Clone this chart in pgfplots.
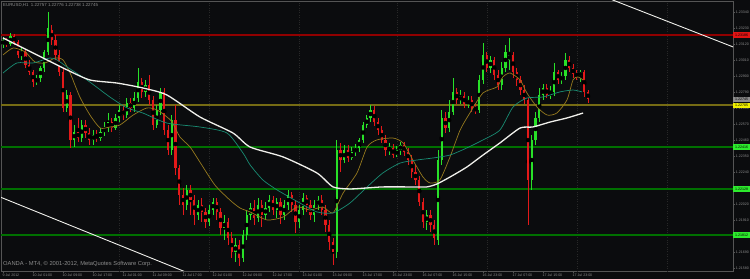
\documentclass[border=0pt]{standalone}
\usepackage{fontspec}
\setmainfont{Liberation Sans}
\usepackage{pgfplots}
\usepackage{pgfplotstable}
\pgfplotsset{compat=1.18}
\definecolor{bg}{RGB}{11,12,14}
\definecolor{upc}{RGB}{40,225,40}
\definecolor{dnc}{RGB}{228,25,25}
\definecolor{redl}{RGB}{145,0,0}
\definecolor{redbox}{RGB}{225,20,20}
\definecolor{olivel}{RGB}{118,108,20}
\definecolor{yelbox}{RGB}{240,240,0}
\definecolor{greenl}{RGB}{0,112,0}
\definecolor{greenbox}{RGB}{45,235,45}
\definecolor{graybox}{RGB}{140,140,140}
\definecolor{maw}{RGB}{240,240,235}
\definecolor{mateal}{RGB}{25,140,115}
\definecolor{maol}{RGB}{150,122,30}
\definecolor{framec}{RGB}{85,85,85}
\definecolor{gridc}{RGB}{40,40,40}
\definecolor{txtc}{RGB}{140,140,140}

\pgfplotstableread{
i o h l c
0 1.23118 1.23173 1.23097 1.23152
1 1.23152 1.23166 1.23104 1.23125
2 1.23125 1.23200 1.23111 1.23180
3 1.23180 1.23193 1.23118 1.23138
4 1.23138 1.23152 1.23028 1.23049
5 1.23049 1.23097 1.23015 1.23070
6 1.23070 1.23083 1.22960 1.22980
7 1.22980 1.23015 1.22911 1.22932
8 1.22932 1.22946 1.22829 1.22863
9 1.22863 1.22911 1.22843 1.22891
10 1.22891 1.22973 1.22863 1.22960
11 1.22960 1.23083 1.22932 1.23070
12 1.23070 1.23345 1.23049 1.23235
13 1.23221 1.23255 1.23118 1.23152
14 1.23152 1.23186 1.23015 1.23049
15 1.23049 1.23083 1.22905 1.22932
16 1.22932 1.22960 1.22657 1.22685
17 1.22685 1.22808 1.22657 1.22774
18 1.22774 1.22795 1.22410 1.22465
19 1.22465 1.22568 1.22416 1.22520
20 1.22520 1.22616 1.22451 1.22478
21 1.22478 1.22602 1.22451 1.22568
22 1.22568 1.22602 1.22478 1.22513
23 1.22513 1.22547 1.22430 1.22465
24 1.22465 1.22533 1.22430 1.22499
25 1.22499 1.22533 1.22451 1.22478
26 1.22478 1.22547 1.22458 1.22520
27 1.22520 1.22588 1.22492 1.22547
28 1.22547 1.22650 1.22520 1.22588
29 1.22588 1.22616 1.22520 1.22547
30 1.22547 1.22643 1.22533 1.22616
31 1.22616 1.22705 1.22588 1.22671
32 1.22671 1.22698 1.22602 1.22636
33 1.22636 1.22753 1.22616 1.22719
34 1.22719 1.22753 1.22657 1.22685
35 1.22685 1.22795 1.22657 1.22753
36 1.22753 1.22960 1.22726 1.22863
37 1.22863 1.22891 1.22753 1.22795
38 1.22795 1.22877 1.22760 1.22843
39 1.22843 1.22911 1.22705 1.22740
40 1.22740 1.22767 1.22533 1.22568
41 1.22568 1.22705 1.22547 1.22671
42 1.22671 1.22822 1.22636 1.22795
43 1.22795 1.22822 1.22499 1.22533
44 1.22533 1.22568 1.22361 1.22396
45 1.22396 1.22636 1.22361 1.22602
46 1.22602 1.22705 1.22224 1.22272
47 1.22272 1.22293 1.22018 1.22086
48 1.22086 1.22135 1.21949 1.22018
49 1.22018 1.22155 1.21983 1.22121
50 1.22121 1.22155 1.21949 1.22052
51 1.22052 1.22086 1.21880 1.21949
52 1.21949 1.22052 1.21915 1.22018
53 1.22018 1.22066 1.21901 1.21970
54 1.21970 1.21997 1.21860 1.21901
55 1.21901 1.22018 1.21873 1.21983
56 1.21983 1.22066 1.21949 1.22038
57 1.22038 1.22066 1.21915 1.21970
58 1.21970 1.21997 1.21811 1.21860
59 1.21860 1.21949 1.21777 1.21901
60 1.21901 1.21928 1.21743 1.21791
61 1.21791 1.21832 1.21653 1.21695
62 1.21695 1.21791 1.21626 1.21743
63 1.21743 1.21777 1.21598 1.21653
64 1.21653 1.21846 1.21626 1.21811
65 1.21811 1.21983 1.21777 1.21949
66 1.21949 1.22031 1.21915 1.21997
67 1.21997 1.22052 1.21880 1.21928
68 1.21928 1.22066 1.21901 1.22018
69 1.22018 1.22052 1.21866 1.21949
70 1.21949 1.22038 1.21915 1.21997
71 1.21997 1.22086 1.21970 1.22052
72 1.22052 1.22080 1.21949 1.21983
73 1.21983 1.22066 1.21928 1.22038
74 1.22038 1.22066 1.21887 1.21949
75 1.21949 1.22052 1.21915 1.22018
76 1.22018 1.22121 1.21983 1.22086
77 1.22086 1.22107 1.21970 1.22018
78 1.22018 1.22052 1.21825 1.21901
79 1.21901 1.22018 1.21860 1.21983
80 1.21983 1.22100 1.21949 1.22066
81 1.22066 1.22086 1.21970 1.22018
82 1.22018 1.22052 1.21915 1.21949
83 1.21949 1.22052 1.21901 1.22018
84 1.22018 1.22080 1.21983 1.22052
85 1.22052 1.22086 1.21949 1.21983
86 1.21983 1.22018 1.21832 1.21880
87 1.21880 1.21915 1.21708 1.21763
88 1.21763 1.21791 1.21605 1.21695
89 1.21695 1.22465 1.21653 1.22396
90 1.22396 1.22444 1.22245 1.22327
91 1.22327 1.22430 1.22306 1.22396
92 1.22396 1.22430 1.22313 1.22341
93 1.22341 1.22416 1.22327 1.22382
94 1.22382 1.22437 1.22355 1.22410
95 1.22410 1.22478 1.22382 1.22465
96 1.22465 1.22588 1.22444 1.22568
97 1.22568 1.22636 1.22547 1.22616
98 1.22616 1.22705 1.22588 1.22671
99 1.22671 1.22698 1.22561 1.22588
100 1.22588 1.22616 1.22499 1.22533
101 1.22533 1.22561 1.22444 1.22465
102 1.22465 1.22499 1.22355 1.22396
103 1.22396 1.22444 1.22361 1.22410
104 1.22410 1.22437 1.22341 1.22361
105 1.22361 1.22423 1.22348 1.22396
106 1.22396 1.22451 1.22361 1.22430
107 1.22430 1.22451 1.22355 1.22382
108 1.22382 1.22410 1.22293 1.22327
109 1.22327 1.22361 1.22203 1.22245
110 1.22245 1.22293 1.22155 1.22190
111 1.22190 1.22217 1.22011 1.22038
112 1.22038 1.22066 1.21860 1.21901
113 1.21901 1.21983 1.21846 1.21949
114 1.21949 1.21983 1.21832 1.21880
115 1.21880 1.21915 1.21743 1.21791
116 1.21777 1.22396 1.21743 1.22327
117 1.22327 1.22671 1.22293 1.22616
118 1.22616 1.22657 1.22513 1.22547
119 1.22547 1.22740 1.22520 1.22657
120 1.22657 1.22891 1.22636 1.22795
121 1.22795 1.22822 1.22712 1.22740
122 1.22740 1.22808 1.22712 1.22767
123 1.22767 1.22795 1.22685 1.22712
124 1.22712 1.22767 1.22685 1.22740
125 1.22740 1.22767 1.22657 1.22685
126 1.22685 1.22712 1.22643 1.22671
127 1.22671 1.22911 1.22650 1.22877
128 1.22877 1.23131 1.22850 1.23049
129 1.23049 1.23070 1.22932 1.22960
130 1.22960 1.23042 1.22925 1.23015
131 1.23015 1.23035 1.22877 1.22911
132 1.22911 1.22946 1.22808 1.22843
133 1.22843 1.23001 1.22808 1.22960
134 1.22960 1.23118 1.22932 1.23070
135 1.23015 1.23166 1.22946 1.23049
136 1.23049 1.23070 1.22891 1.22932
137 1.22932 1.22960 1.22836 1.22877
138 1.22877 1.22905 1.22774 1.22808
139 1.22808 1.22843 1.22712 1.22740
140 1.22740 1.22753 1.21880 1.22190
141 1.22190 1.22499 1.22121 1.22465
142 1.22465 1.22657 1.22430 1.22616
143 1.22616 1.22822 1.22588 1.22774
144 1.22774 1.22850 1.22740 1.22822
145 1.22822 1.22850 1.22753 1.22774
146 1.22774 1.22836 1.22746 1.22795
147 1.22795 1.22994 1.22767 1.22932
148 1.22932 1.22946 1.22850 1.22877
149 1.22877 1.22932 1.22850 1.22905
150 1.22905 1.23063 1.22877 1.23015
151 1.23015 1.23042 1.22932 1.22960
152 1.22960 1.22987 1.22891 1.22918
153 1.22918 1.22946 1.22877 1.22905
154 1.22905 1.22946 1.22863 1.22932
155 1.22932 1.22946 1.22760 1.22795
156 1.22795 1.22808 1.22719 1.22746
}\candles

\pgfplotsset{
  wick/.style={only marks, mark=none, forget plot,
    error bars/.cd, y dir=both, y explicit, error mark=none,
    error bar style={line width=0.7bp, draw=#1}},
  body/.style={only marks, mark=none, forget plot,
    error bars/.cd, y dir=both, y explicit, error mark=none,
    error bar style={line width=2.3bp, draw=#1}},
  hline/.style={draw=#1, color=#1, line width=1.5bp, mark=none, forget plot},
}
\newcommand{\tinyf}{\fontsize{3.6}{4}\selectfont}

\begin{document}
\begin{tikzpicture}
\fill[bg] (0,0) rectangle (750bp,279bp);
\useasboundingbox (0,0) rectangle (750bp,279bp);
\begin{axis}[
  at={(1bp,8bp)}, anchor=south west,
  scale only axis, width=732bp, height=270bp,
  xmin=-0.533, xmax=194.667, ymin=1.21564, ymax=1.23420,
  clip mode=individual,
  axis line style={framec, line width=0.5bp},
  tick align=outside, major tick length=2.2bp,
  tick style={framec, line width=0.4bp},
  ytick pos=right, yticklabel pos=right,
  xtick pos=bottom,
  ytick={1.21580,1.21690,1.21800,1.21910,1.22020,1.22130,1.22240,1.22350,1.22460,1.22570,1.22680,1.22790,1.22900,1.23010,1.23120,1.23230,1.23340},
  yticklabels={1.21580,1.21690,,1.21910,1.22020,,1.22240,1.22350,1.22460,1.22570,1.22680,1.22790,1.22900,1.23010,1.23120,1.23230,1.23340},
  xtick={0,8,16,24,32,40,48,56,64,72,80,88,96,104,112,120,128,136,144,152},
  xticklabels={9 Jul 2012,10 Jul 01:00,10 Jul 09:00,10 Jul 17:00,11 Jul 01:00,11 Jul 09:00,11 Jul 17:00,12 Jul 01:00,12 Jul 09:00,12 Jul 17:00,13 Jul 01:00,13 Jul 09:00,13 Jul 17:00,15 Jul 23:00,16 Jul 07:00,16 Jul 15:00,16 Jul 23:00,17 Jul 07:00,17 Jul 15:00,17 Jul 23:00},
  ticklabel style={font=\tinyf, text=txtc, inner sep=0pt},
  yticklabel style={anchor=west, xshift=0.5bp},
  xticklabel style={anchor=west, yshift=-2bp, xshift=-0.5bp},
  extra x ticks={31,55,79,105,129,153,177},
  extra x tick labels={},
  extra x tick style={xmajorgrids=true, major tick length=0pt},
  major grid style={gridc, dotted, line width=0.4bp},
]
% horizontal levels
\addplot[hline=redl] coordinates {(-1,1.23186) (196,1.23186)};
\addplot[hline=olivel] coordinates {(-1,1.22705) (196,1.22705)};
\addplot[hline=greenl] coordinates {(-1,1.22416) (196,1.22416)};
\addplot[hline=greenl] coordinates {(-1,1.22128) (196,1.22128)};
\addplot[hline=greenl] coordinates {(-1,1.21812) (196,1.21812)};

% candles: up
\addplot[wick=upc] table[x=i, y expr={(\thisrow{h}+\thisrow{l})/2}, y error expr={(\thisrow{h}-\thisrow{l})/2}, restrict expr to domain={\thisrow{c}-\thisrow{o}}{0:1}] {\candles};
\addplot[body=upc] table[x=i, y expr={(\thisrow{o}+\thisrow{c})/2}, y error expr={(\thisrow{c}-\thisrow{o})/2}, restrict expr to domain={\thisrow{c}-\thisrow{o}}{0:1}] {\candles};
% candles: down
\addplot[wick=dnc] table[x=i, y expr={(\thisrow{h}+\thisrow{l})/2}, y error expr={(\thisrow{h}-\thisrow{l})/2}, restrict expr to domain={\thisrow{c}-\thisrow{o}}{-1:0}] {\candles};
\addplot[body=dnc] table[x=i, y expr={(\thisrow{o}+\thisrow{c})/2}, y error expr={(\thisrow{o}-\thisrow{c})/2}, restrict expr to domain={\thisrow{c}-\thisrow{o}}{-1:0}] {\candles};

% moving averages
\addplot[maol, line width=0.7bp, smooth, tension=0.4, forget plot] coordinates {
(0,1.23049) (2.7,1.23097) (5.9,1.23070) (8.5,1.23001) (11.2,1.22994) (13.9,1.23028) (16,1.23015) (17.9,1.22925) (20.5,1.22760) (23.2,1.22636) (25.9,1.22547) (28.5,1.22554) (31.2,1.22568) (34.7,1.22636) (38.4,1.22685) (41.1,1.22671) (43.7,1.22623) (45.1,1.22588) (47.2,1.22485) (49.9,1.22416) (52.5,1.22313) (56.5,1.22155) (60.5,1.22052) (63.2,1.21997) (65.9,1.21970) (70.4,1.21915) (74.7,1.21935) (78.4,1.22004) (81.9,1.21983) (85.3,1.22004) (88,1.21963) (90.7,1.22100) (94.4,1.22238) (97.1,1.22416) (99.7,1.22465) (104,1.22478) (106.7,1.22444) (109.3,1.22327) (112,1.22210) (113.9,1.22169) (116.5,1.22190) (119.2,1.22348) (121.9,1.22533) (124.5,1.22650) (128,1.22788) (131.7,1.22829) (133.3,1.22898) (135.2,1.22925) (137.9,1.22877) (139.7,1.22788) (142.4,1.22691) (145.1,1.22636) (147.7,1.22650) (150.4,1.22740) (152,1.22877) (153.3,1.22898) (154.7,1.22877)};
\addplot[mateal, line width=0.7bp, smooth, tension=0.4, forget plot] coordinates {
(0,1.22925) (3.7,1.22994) (8,1.22994) (12.5,1.23028) (14.4,1.23015) (17.1,1.22966) (22.4,1.22877) (28.5,1.22760) (33.1,1.22685) (37.3,1.22650) (43.7,1.22581) (52.5,1.22554) (59.7,1.22513) (64,1.22375) (65.9,1.22293) (69.3,1.22190) (73.1,1.22121) (79.2,1.22031) (83.7,1.21970) (88,1.21963) (92.5,1.22031) (97.1,1.22142) (101.3,1.22238) (105.9,1.22306) (110.4,1.22327) (114.7,1.22341) (119.2,1.22361) (123.7,1.22410) (128,1.22465) (132.5,1.22533) (136,1.22691) (139.7,1.22753) (144,1.22760) (148.5,1.22795) (152,1.22808) (154.4,1.22795)};
\addplot[maw, line width=1.3bp, smooth, tension=0.4, forget plot] coordinates {
(0,1.23166) (8,1.23063) (17.1,1.22946) (23.2,1.22877) (30.4,1.22856) (37.3,1.22822) (43.7,1.22774) (52.5,1.22623) (61.3,1.22513) (65.9,1.22416) (74.7,1.22348) (83.7,1.22238) (88,1.22142) (92.5,1.22128) (97.1,1.22135) (101.3,1.22142) (108.5,1.22142) (113,1.22142) (115.7,1.22162) (119.2,1.22210) (123.7,1.22279) (128,1.22361) (132.5,1.22444) (137.9,1.22547) (141.3,1.22554) (145.9,1.22588) (150.4,1.22616) (154.7,1.22650)};

% trend lines
\addplot[maw, line width=0.9bp, forget plot] coordinates {(-0.8,1.22073) (52,1.21523)};
\addplot[maw, line width=0.9bp, forget plot] coordinates {(160,1.23453) (196,1.23091)};

% price boxes on the right scale
\node[fill=redbox, anchor=west, minimum width=17bp, minimum height=5.4bp, inner sep=0pt, font=\tinyf, text=black] at (axis cs:194.667,1.23186) {1.23186};
\node[fill=graybox, anchor=west, minimum width=17bp, minimum height=5bp, inner sep=0pt, font=\tinyf, text=black] at (axis cs:194.667,1.22745) {1.22745};
\node[fill=yelbox, anchor=west, minimum width=17bp, minimum height=5bp, inner sep=0pt, font=\tinyf, text=black] at (axis cs:194.667,1.22705) {1.22705};
\node[fill=greenbox, anchor=west, minimum width=17bp, minimum height=5.4bp, inner sep=0pt, font=\tinyf, text=black] at (axis cs:194.667,1.22416) {1.22416};
\node[fill=greenbox, anchor=west, minimum width=17bp, minimum height=5.4bp, inner sep=0pt, font=\tinyf, text=black] at (axis cs:194.667,1.22128) {1.22128};
\node[fill=greenbox, anchor=west, minimum width=17bp, minimum height=5.4bp, inner sep=0pt, font=\tinyf, text=black] at (axis cs:194.667,1.21812) {1.21812};
\end{axis}
\node[anchor=west, inner sep=0pt, font=\fontsize{4.4}{5}\selectfont, text=txtc] at (3bp,273.5bp) {EURUSD,H1\ \ 1.22757 1.22776 1.22738 1.22745};
\node[anchor=west, inner sep=0pt, font=\fontsize{5.8}{7}\selectfont, text=txtc] at (3bp,15bp) {OANDA - MT4, © 2001-2012, MetaQuotes Software Corp.};
\end{tikzpicture}
\end{document}
